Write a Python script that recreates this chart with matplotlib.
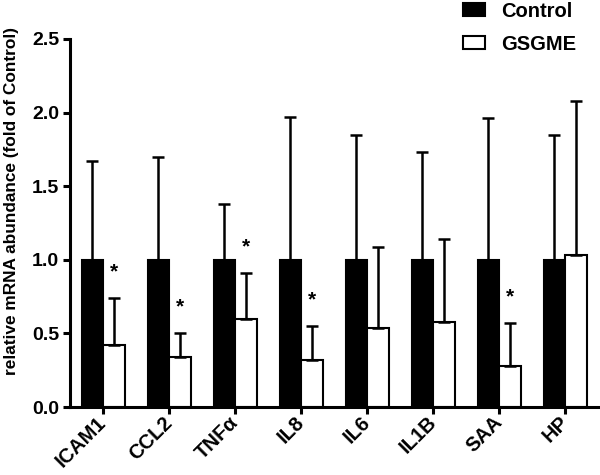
import numpy as np
import matplotlib.pyplot as plt

plt.rcParams['font.family'] = ['Liberation Sans', 'DejaVu Sans']
plt.rcParams['font.weight'] = 'bold'

# data
genes = ['ICAM1', 'CCL2', 'TNFα', 'IL8', 'IL6', 'IL1B', 'SAA', 'HP']
control_mean = [1.0, 1.0, 1.0, 1.0, 1.0, 1.0, 1.0, 1.0]
control_err = [0.67, 0.70, 0.38, 0.97, 0.85, 0.73, 0.96, 0.85]
gsgme_mean = [0.42, 0.34, 0.60, 0.32, 0.54, 0.58, 0.28, 1.03]
gsgme_err = [0.32, 0.16, 0.31, 0.23, 0.55, 0.56, 0.29, 1.05]
signif = [True, True, True, True, False, False, True, False]

x = np.arange(len(genes))
w = 0.325

fig = plt.figure(figsize=(6, 4.75), dpi=100)
ax = fig.add_axes([0.117, 0.143, 0.88, 0.775])

ek = dict(elinewidth=1.8, capthick=1.8, ecolor='black')
ax.bar(x - w / 2, control_mean, w, color='black', edgecolor='black', linewidth=1.5,
       yerr=[np.zeros(len(x)), control_err], capsize=4.5, error_kw=ek, label='Control')
ax.bar(x + w / 2, gsgme_mean, w, color='white', edgecolor='black', linewidth=1.5,
       yerr=[np.zeros(len(x)), gsgme_err], capsize=4.5, error_kw=ek, label='GSGME',
       zorder=2)

# stars above significant GSGME bars
for i in range(len(x)):
    if signif[i]:
        top = gsgme_mean[i] + gsgme_err[i]
        ax.text(x[i] + w / 2, top + 0.18, '*', ha='center', va='center',
                fontsize=15, fontweight='bold')

ax.set_xlim(-0.5, 7.5)
ax.set_ylim(0, 2.5)
ax.set_yticks([0, 0.5, 1.0, 1.5, 2.0, 2.5])
ax.set_yticklabels(['0.0', '0.5', '1.0', '1.5', '2.0', '2.5'])
ax.set_xticks(x)
ax.set_xticklabels(genes, rotation=45, ha='right', va='center', rotation_mode='anchor')

for s in ['top', 'right']:
    ax.spines[s].set_visible(False)
for s in ['left', 'bottom']:
    ax.spines[s].set_linewidth(2.2)
ax.tick_params(axis='both', width=2.2, length=5, labelsize=14, pad=3)
ax.tick_params(axis='x', labelsize=14.5, pad=4)

ax.set_ylabel('relative mRNA abundance (fold of Control)', fontsize=12.4,
              fontweight='bold')
ax.yaxis.set_label_coords(-0.097, 0.56)

fig.legend(loc='upper left', bbox_to_anchor=(0.742, 1.035), frameon=False,
           fontsize=14.5, handlelength=1.1, handleheight=0.6, handletextpad=0.8,
           labelspacing=0.7)

fig.savefig('out.png', dpi=100)
